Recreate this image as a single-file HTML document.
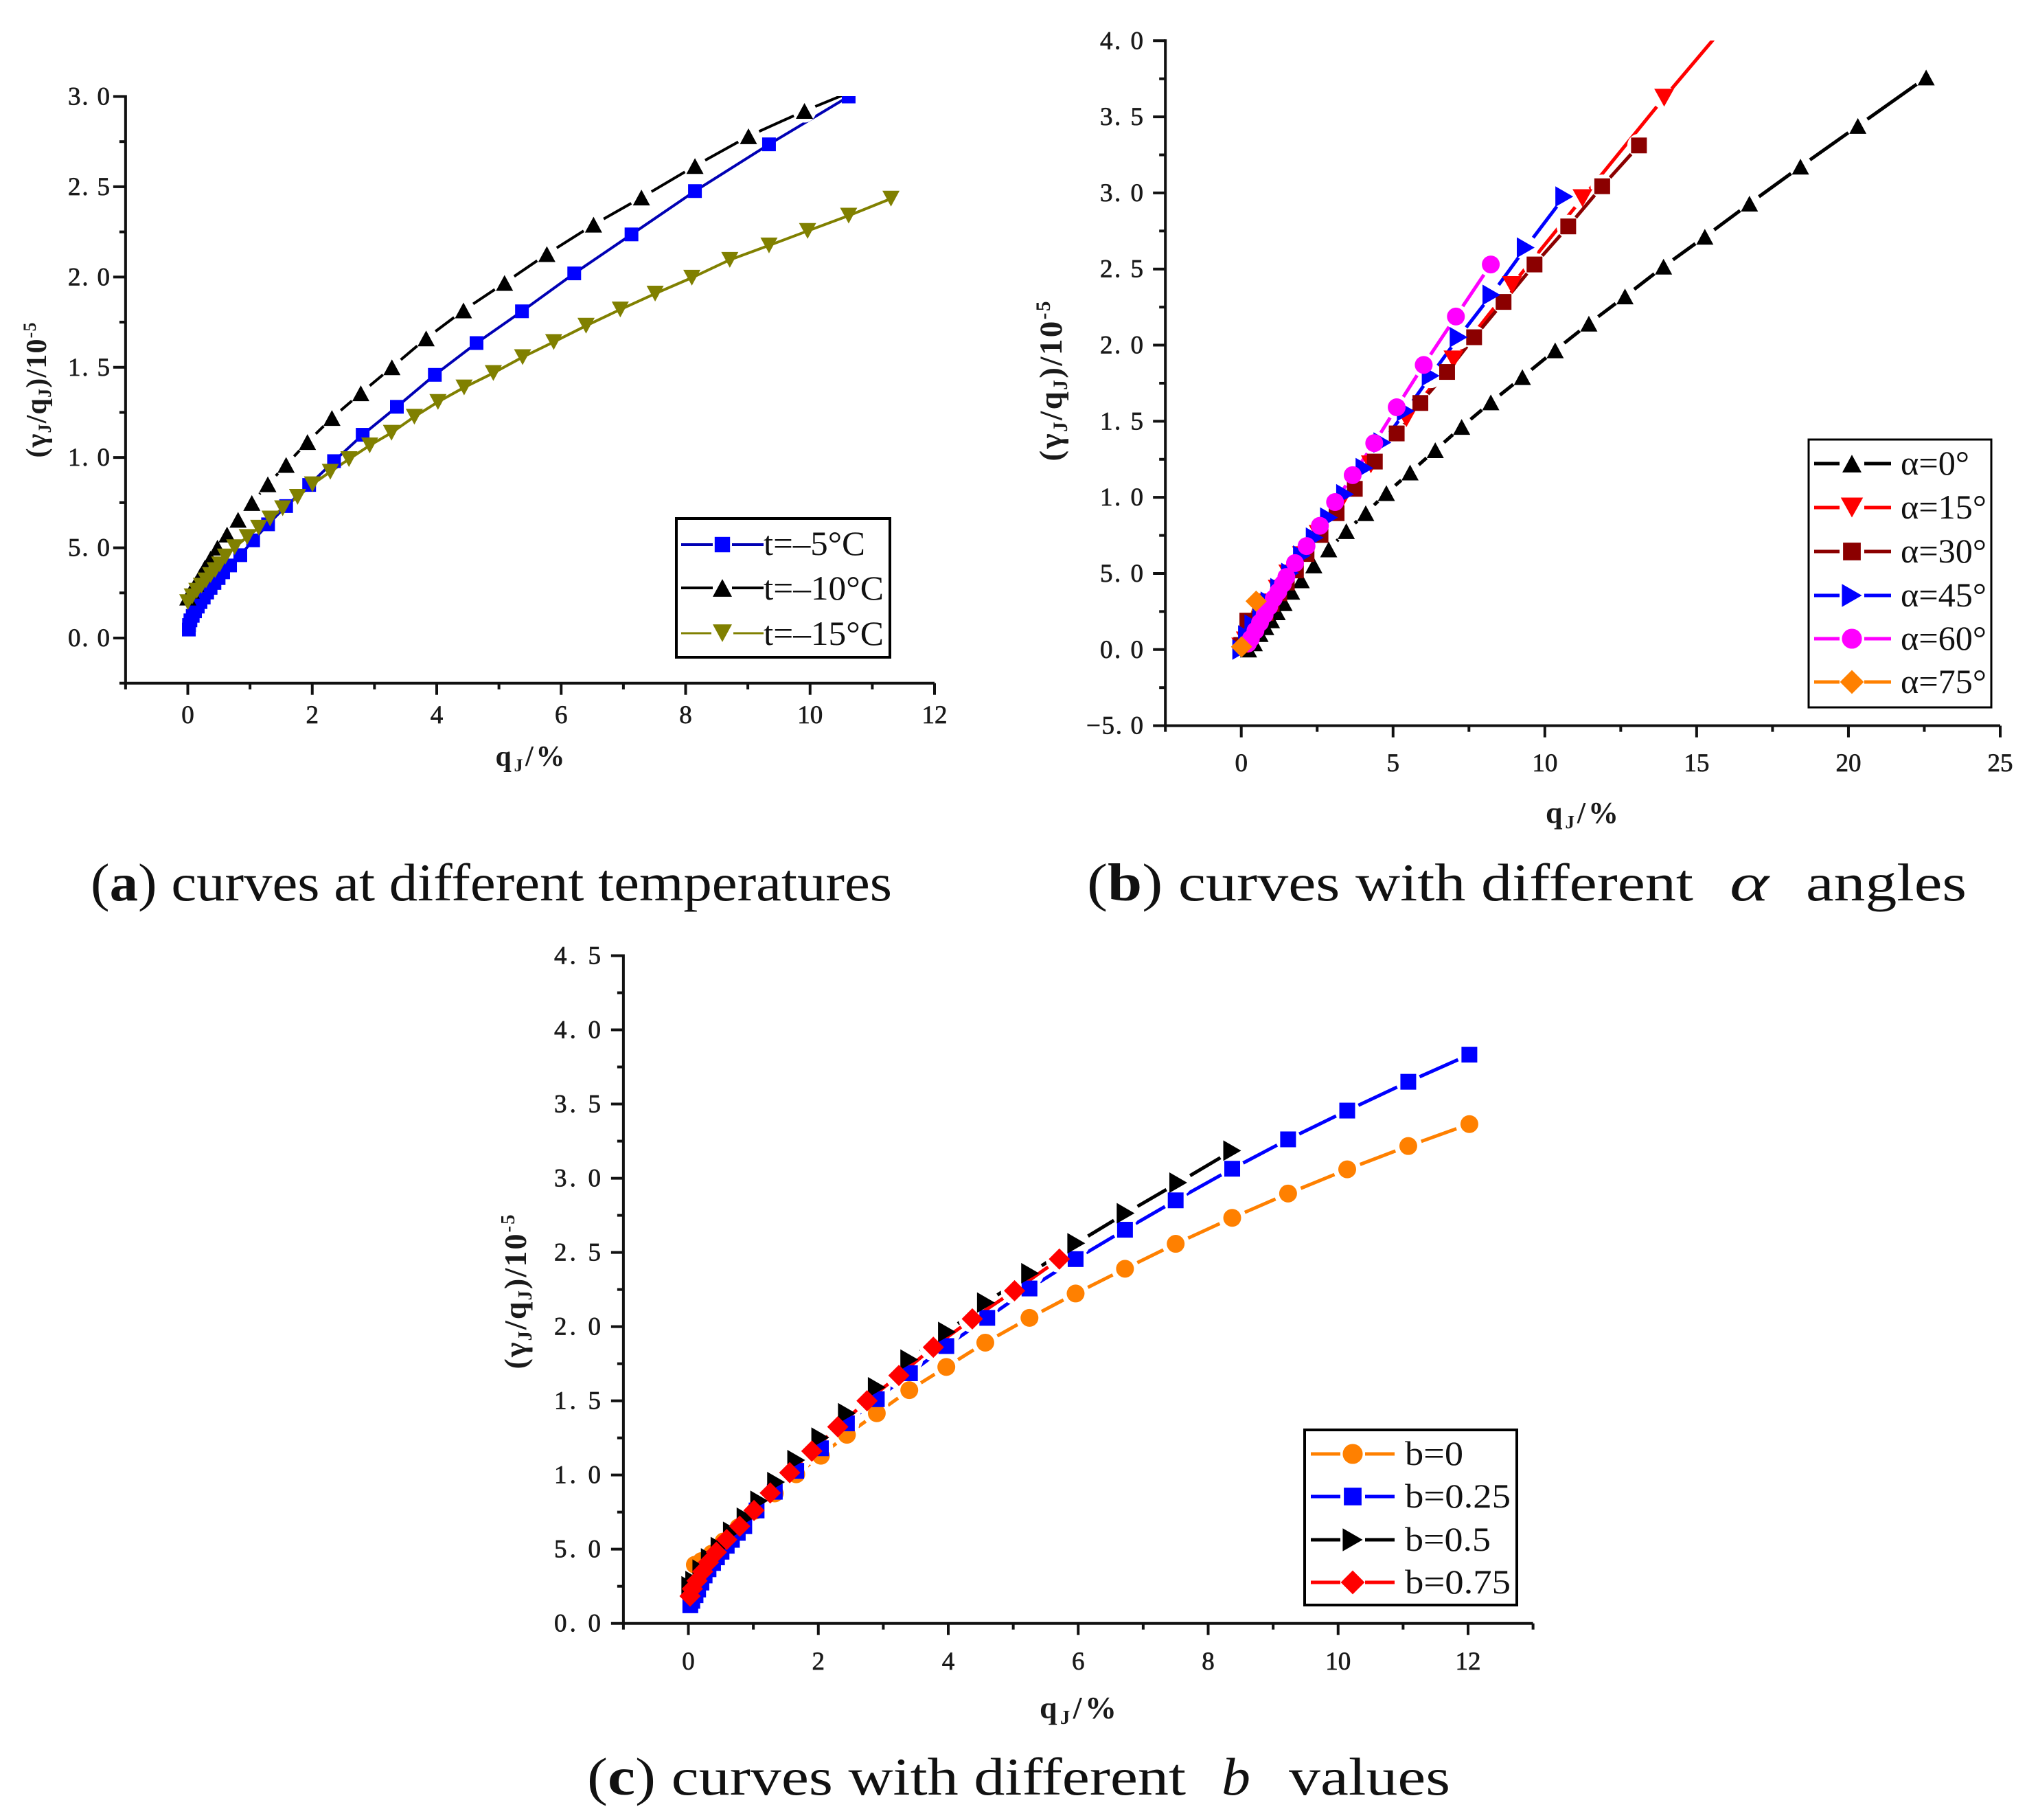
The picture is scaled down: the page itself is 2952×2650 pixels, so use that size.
<!DOCTYPE html>
<html lang="en">
<head>
<meta charset="utf-8">
<title>Curves at different temperatures, angles and b values</title>
<style>
html,body{margin:0;padding:0;background:#fff;}
svg{display:block;}
.tick{font-family:"Liberation Serif",serif;font-size:37px;fill:#1a1a1a;stroke:#1a1a1a;stroke-width:.7px;}
.title{font-family:"Liberation Serif",serif;font-size:42px;font-weight:bold;fill:#1a1a1a;}
.sm{font-size:.62em;}
.leg{font-family:"Liberation Serif",serif;font-size:50px;fill:#111;}
.cap{font-family:"Liberation Serif",serif;font-size:77px;fill:#111;}
</style>
</head>
<body>
<svg xmlns="http://www.w3.org/2000/svg" width="2952" height="2650" viewBox="0 0 2952 2650">
<rect width="2952" height="2650" fill="#fff"/>
<defs>
<clipPath id="clip-a"><rect x="150" y="140" width="1300" height="854"/></clipPath>
<clipPath id="clip-b"><rect x="1660" y="59" width="1292" height="998"/></clipPath>
<clipPath id="clip-c"><rect x="880" y="1391" width="1400" height="973"/></clipPath>
</defs>

<g id="panel-a"></g>
<g id="panel-b"></g>
<g id="panel-c"></g>

<!-- Axis titles -->
<text class="title" x="772" y="1115" text-anchor="middle" textLength="101">q<tspan class="sm" dy="8">J</tspan><tspan dy="-8">/%</tspan></text>
<text class="title" transform="translate(67,568) rotate(-90)" text-anchor="middle" textLength="197">(γ<tspan class="sm" dy="7">J</tspan><tspan dy="-7">/q</tspan><tspan class="sm" dy="7">J</tspan><tspan dy="-7">)/10</tspan><tspan class="sm" dy="-15">-5</tspan></text>

<text class="title" style="font-size:44px" x="2304" y="1198" text-anchor="middle" textLength="106">q<tspan class="sm" dy="8">J</tspan><tspan dy="-8">/%</tspan></text>
<text class="title" style="font-size:47px" transform="translate(1546,555) rotate(-90)" text-anchor="middle" textLength="233">(γ<tspan class="sm" dy="8">J</tspan><tspan dy="-8">/q</tspan><tspan class="sm" dy="8">J</tspan><tspan dy="-8">)/10</tspan><tspan class="sm" dy="-17">-5</tspan></text>

<text class="title" style="font-size:46px" x="1570" y="2502" text-anchor="middle" textLength="112">q<tspan class="sm" dy="8">J</tspan><tspan dy="-8">/%</tspan></text>
<text class="title" style="font-size:46px" transform="translate(766,1881) rotate(-90)" text-anchor="middle" textLength="225">(γ<tspan class="sm" dy="8">J</tspan><tspan dy="-8">/q</tspan><tspan class="sm" dy="8">J</tspan><tspan dy="-8">)/10</tspan><tspan class="sm" dy="-17">-5</tspan></text>

<!-- Legend a -->
<g>
<rect x="985" y="755" width="311" height="202" fill="#fff" stroke="#000" stroke-width="4"/>
<g id="legend-a-swatches"></g>
<text class="leg" x="1112" y="808" textLength="148" lengthAdjust="spacingAndGlyphs">t=–5°C</text>
<text class="leg" x="1112" y="873" textLength="175" lengthAdjust="spacingAndGlyphs">t=–10°C</text>
<text class="leg" x="1112" y="939" textLength="175" lengthAdjust="spacingAndGlyphs">t=–15°C</text>
</g>

<!-- Legend b -->
<g>
<rect x="2634" y="640" width="266" height="390" fill="#fff" stroke="#000" stroke-width="3"/>
<g id="legend-b-swatches"></g>
<text class="leg" x="2768" y="691" textLength="100" lengthAdjust="spacingAndGlyphs">α=0°</text>
<text class="leg" x="2768" y="755" textLength="125" lengthAdjust="spacingAndGlyphs">α=15°</text>
<text class="leg" x="2768" y="819" textLength="125" lengthAdjust="spacingAndGlyphs">α=30°</text>
<text class="leg" x="2768" y="883" textLength="125" lengthAdjust="spacingAndGlyphs">α=45°</text>
<text class="leg" x="2768" y="946" textLength="125" lengthAdjust="spacingAndGlyphs">α=60°</text>
<text class="leg" x="2768" y="1009" textLength="125" lengthAdjust="spacingAndGlyphs">α=75°</text>
</g>

<!-- Legend c -->
<g>
<rect x="1900" y="2082" width="309" height="255" fill="#fff" stroke="#000" stroke-width="4"/>
<g id="legend-c-swatches"></g>
<text class="leg" x="2046" y="2133" textLength="85" lengthAdjust="spacingAndGlyphs">b=0</text>
<text class="leg" x="2046" y="2195" textLength="154" lengthAdjust="spacingAndGlyphs">b=0.25</text>
<text class="leg" x="2046" y="2258" textLength="125" lengthAdjust="spacingAndGlyphs">b=0.5</text>
<text class="leg" x="2046" y="2320" textLength="154" lengthAdjust="spacingAndGlyphs">b=0.75</text>
</g>

<!-- Captions -->
<text class="cap" x="132" y="1311" textLength="1167" lengthAdjust="spacingAndGlyphs">(<tspan font-weight="bold">a</tspan>) curves at different temperatures</text>
<text class="cap" x="1583" y="1311" textLength="883" lengthAdjust="spacingAndGlyphs">(<tspan font-weight="bold">b</tspan>) curves with different</text>
<text class="cap" x="2519" y="1311" font-style="italic" textLength="57" lengthAdjust="spacingAndGlyphs">α</text>
<text class="cap" x="2630" y="1311" textLength="234" lengthAdjust="spacingAndGlyphs">angles</text>
<text class="cap" x="855" y="2613" textLength="872" lengthAdjust="spacingAndGlyphs">(<tspan font-weight="bold">c</tspan>) curves with different</text>
<text class="cap" x="1779" y="2613" font-style="italic" textLength="42" lengthAdjust="spacingAndGlyphs">b</text>
<text class="cap" x="1877" y="2613" textLength="235" lengthAdjust="spacingAndGlyphs">values</text>
</svg>

<script>
// ---------- Panel (a) data ----------
const aXTicks = [0,2,4,6,8,10,12];
const aXLabels = ["0","2","4","6","8","10","12"];
const aYTicks = [0,0.5,1,1.5,2,2.5,3];
const aYLabels = ["0. 0","5. 0","1. 0","1. 5","2. 0","2. 5","3. 0"];

const t5X = [0.017,0.02,0.042,0.079,0.116,0.16,0.204,0.256,0.311,0.366,0.428,0.495,0.568,0.679,0.844,1.05,1.29,1.58,1.95,2.35,2.81,3.36,3.97,4.64,5.37,6.21,7.13,8.15,9.34,10.62];
const t5Y = [0.047,0.072,0.098,0.123,0.148,0.174,0.199,0.224,0.252,0.278,0.305,0.332,0.364,0.402,0.459,0.541,0.63,0.731,0.848,0.98,1.126,1.281,1.458,1.634,1.81,2.02,2.236,2.476,2.735,3.0];

const t10X = [0,0.053,0.127,0.2,0.274,0.366,0.477,0.631,0.808,1.029,1.286,1.58,1.923,2.316,2.78,3.28,3.83,4.43,5.09,5.77,6.52,7.29,8.15,9.01,9.91,10.9];
const t10Y = [0.224,0.262,0.30,0.345,0.389,0.44,0.501,0.573,0.655,0.748,0.852,0.959,1.086,1.219,1.356,1.50,1.66,1.815,1.967,2.127,2.29,2.44,2.615,2.78,2.92,3.06];

const t15X = [0,0.072,0.145,0.219,0.293,0.366,0.44,0.513,0.605,0.753,0.955,1.139,1.322,1.525,1.764,2.003,2.29,2.59,2.923,3.273,3.641,4.02,4.44,4.91,5.38,5.88,6.40,6.95,7.51,8.10,8.71,9.34,9.96,10.62,11.30];
const t15Y = [0.199,0.231,0.262,0.29,0.319,0.349,0.376,0.408,0.452,0.503,0.56,0.611,0.662,0.719,0.782,0.852,0.921,0.991,1.067,1.137,1.226,1.308,1.388,1.468,1.556,1.64,1.73,1.82,1.908,1.996,2.095,2.175,2.255,2.34,2.434];

// ---------- Panel (b) data ----------
const bXTicks = [0,5,10,15,20,25];
const bXLabels = ["0","5","10","15","20","25"];
const bYTicks = [-0.5,0,0.5,1,1.5,2,2.5,3,3.5,4];
const bYLabels = ["−5. 0","0. 0","5. 0","1. 0","1. 5","2. 0","2. 5","3. 0","3. 5","4. 0"];

const a0X = [0.24,0.43,0.618,0.805,0.995,1.183,1.41,1.658,1.975,2.39,2.88,3.46,4.10,4.78,5.56,6.39,7.26,8.22,9.26,10.34,11.45,12.64,13.91,15.27,16.74,18.42,20.31,22.56];
const a0Y = [0,0.041,0.102,0.147,0.192,0.245,0.305,0.38,0.455,0.553,0.658,0.778,0.896,1.028,1.163,1.31,1.463,1.624,1.79,1.966,2.141,2.32,2.516,2.712,2.93,3.173,3.44,3.758];

const a15X = [0,0.15,0.3,0.48,0.68,0.9,1.2,1.55,2.0,2.55,3.25,4.27,5.44,6.99,8.92,11.24,13.93,17.0];
const a15Y = [0.02,0.06,0.11,0.17,0.24,0.31,0.4,0.5,0.62,0.76,0.96,1.217,1.52,1.906,2.395,2.966,3.626,4.35];

const a30X = [0,0.2,0.4,0.6,0.8,1.0,1.25,1.5,1.8,2.15,2.61,3.14,3.74,4.40,5.12,5.90,6.78,7.67,8.64,9.66,10.77,11.89,13.1];
const a30Y = [0.03,0.19,0.17,0.2,0.24,0.3,0.37,0.44,0.52,0.628,0.753,0.896,1.056,1.235,1.42,1.62,1.824,2.052,2.284,2.53,2.78,3.044,3.312];

const a45X = [0,0.19,0.40,0.66,0.93,1.25,1.61,2.0,2.42,2.89,3.42,4.06,4.65,5.42,6.24,7.16,8.24,9.37,10.64];
const a45Y = [0,0.093,0.164,0.236,0.314,0.403,0.503,0.617,0.735,0.867,1.02,1.192,1.36,1.567,1.799,2.052,2.33,2.641,2.976];

const a60X = [0.22,0.316,0.467,0.618,0.769,0.919,1.07,1.22,1.372,1.485,1.77,2.15,2.59,3.09,3.67,4.38,5.12,6.01,7.07,8.22];
const a60Y = [0.04,0.071,0.124,0.177,0.229,0.282,0.335,0.38,0.432,0.477,0.568,0.68,0.813,0.969,1.146,1.356,1.592,1.87,2.188,2.53];

const a75X = [0.01,0.49];
const a75Y = [0.018,0.318];

// ---------- Panel (c) data ----------
const cXTicks = [0,2,4,6,8,10,12];
const cXLabels = ["0","2","4","6","8","10","12"];
const cYTicks = [0,0.5,1,1.5,2,2.5,3,3.5,4,4.5];
const cYLabels = ["0. 0","5. 0","1. 0","1. 5","2. 0","2. 5","3. 0","3. 5","4. 0","4. 5"];

const b0X = [0.10,0.2,0.36,0.54,0.77,1.03,1.33,1.66,2.04,2.44,2.90,3.40,3.97,4.57,5.25,5.96,6.72,7.50,8.37,9.23,10.14,11.08,12.02];
const b0Y = [0.395,0.42,0.47,0.552,0.647,0.76,0.876,1.005,1.13,1.271,1.416,1.572,1.728,1.892,2.059,2.223,2.39,2.558,2.733,2.897,3.06,3.217,3.365];

const b25X = [0.03,0.06,0.11,0.15,0.2,0.25,0.31,0.38,0.44,0.51,0.59,0.67,0.76,0.86,1.05,1.33,1.66,2.04,2.44,2.90,3.41,3.97,4.60,5.25,5.96,6.72,7.50,8.37,9.23,10.14,11.08,12.02];
const b25Y = [0.122,0.152,0.19,0.228,0.275,0.323,0.365,0.407,0.445,0.483,0.523,0.563,0.61,0.655,0.761,0.887,1.028,1.18,1.348,1.511,1.686,1.869,2.059,2.257,2.455,2.653,2.851,3.064,3.262,3.456,3.65,3.833];

const b50X = [0.03,0.09,0.2,0.33,0.48,0.67,0.88,1.09,1.35,1.66,2.03,2.44,2.90,3.40,3.98,4.58,5.26,5.97,6.73,7.54,8.37];
const b50Y = [0.25,0.285,0.362,0.438,0.514,0.617,0.712,0.826,0.952,1.10,1.252,1.416,1.591,1.778,1.964,2.162,2.36,2.562,2.764,2.97,3.186];

const b75X = [0.026,0.061,0.132,0.22,0.309,0.431,0.59,0.79,1.01,1.26,1.56,1.90,2.30,2.75,3.24,3.77,4.37,5.02,5.71];
const b75Y = [0.184,0.233,0.287,0.349,0.411,0.48,0.565,0.655,0.761,0.879,1.016,1.161,1.325,1.50,1.671,1.861,2.052,2.242,2.455];

const seriesA = [
  {name:'t-5',  xs:t5X,  ys:t5Y,  line:'#0000b4', fill:'#0000ff', shape:'square', w:20, h:20, gap:0},
  {name:'t-10', xs:t10X, ys:t10Y, line:'#000000', fill:'#000000', shape:'up',     w:25, h:23, gap:17},
  {name:'t-15', xs:t15X, ys:t15Y, line:'#808000', fill:'#808000', shape:'down',   w:25, h:23, gap:0}
];
const seriesB = [
  {name:'alpha-0',  xs:a0X,  ys:a0Y,  line:'#000000', fill:'#000000', shape:'up',      w:25, h:23, gap:17},
  {name:'alpha-15', xs:a15X, ys:a15Y, line:'#ff0000', fill:'#ff0000', shape:'down',    w:29, h:26, gap:17},
  {name:'alpha-30', xs:a30X, ys:a30Y, line:'#8b0000', fill:'#8b0000', shape:'square',  w:23, h:23, gap:17},
  {name:'alpha-45', xs:a45X, ys:a45Y, line:'#0000ff', fill:'#0000ff', shape:'right',   w:26, h:30, gap:18},
  {name:'alpha-60', xs:a60X, ys:a60Y, line:'#ff00ff', fill:'#ff00ff', shape:'circle',  w:26, h:26, gap:18},
  {name:'alpha-75', xs:a75X, ys:a75Y, line:'#ff8000', fill:'#ff8000', shape:'diamond', w:31, h:31, gap:0}
];
const seriesC = [
  {name:'b-0',    xs:b0X,  ys:b0Y,  line:'#ff8000', fill:'#ff8000', shape:'circle',  w:26, h:26, gap:20},
  {name:'b-0-25', xs:b25X, ys:b25Y, line:'#0000ff', fill:'#0000ff', shape:'square',  w:23, h:23, gap:18},
  {name:'b-0-5',  xs:b50X, ys:b50Y, line:'#000000', fill:'#000000', shape:'right',   w:26, h:30, gap:20},
  {name:'b-0-75', xs:b75X, ys:b75Y, line:'#ff0000', fill:'#ff0000', shape:'diamond', w:31, h:31, gap:20}
];

const NS = 'http://www.w3.org/2000/svg';
function mk(tag, attrs, parent){
  const el = document.createElementNS(NS, tag);
  for (const k in attrs) el.setAttribute(k, attrs[k]);
  parent.appendChild(el);
  return el;
}
function linear(d0, d1, r0, r1){
  return function(v){ return r0 + (v - d0) * (r1 - r0) / (d1 - d0); };
}
function drawMarker(parent, shape, x, y, w, h, fill, name){
  const a = w / 2, b = h / 2;
  let el;
  if (shape === 'square') {
    el = mk('rect', {x:x-a, y:y-b, width:w, height:h, fill:fill}, parent);
  } else if (shape === 'circle') {
    el = mk('circle', {cx:x, cy:y, r:a, fill:fill}, parent);
  } else {
    let pts;
    if (shape === 'up') pts = [[x,y-b],[x+a,y+b],[x-a,y+b]];
    if (shape === 'down') pts = [[x,y+b],[x+a,y-b],[x-a,y-b]];
    if (shape === 'right') pts = [[x+a,y],[x-a,y-b],[x-a,y+b]];
    if (shape === 'diamond') pts = [[x,y-b],[x+a,y],[x,y+b],[x-a,y]];
    el = mk('polygon', {points:pts.map(function(p){return p.join(',');}).join(' '), fill:fill}, parent);
  }
  
  
}
function drawSeriesLines(parent, s, sx, sy, clipId, lw){
  const g = mk('g', {'clip-path':'url(#' + clipId + ')'}, parent);
  
  
  if (s.gap > 0) {
    for (let i = 0; i < s.xs.length; i++) {
      const halo = mk('circle', {cx:sx(s.xs[i]), cy:sy(s.ys[i]), r:s.gap, fill:'#fff'}, g);
      
      
    }
  }
  for (let i = 0; i < s.xs.length - 1; i++) {
    const x1 = sx(s.xs[i]), y1 = sy(s.ys[i]), x2 = sx(s.xs[i+1]), y2 = sy(s.ys[i+1]);
    const d = Math.hypot(x2 - x1, y2 - y1);
    if (d <= 2 * s.gap) continue;
    const ux = (x2 - x1) / d, uy = (y2 - y1) / d;
    const seg = mk('line', {x1:x1+ux*s.gap, y1:y1+uy*s.gap, x2:x2-ux*s.gap, y2:y2-uy*s.gap, stroke:s.line, 'stroke-width':lw}, g);
    
    
  }
}
function drawSeriesMarkers(parent, s, sx, sy, clipId){
  const g = mk('g', {'clip-path':'url(#' + clipId + ')'}, parent);
  
  
  for (let i = 0; i < s.xs.length; i++) {
    drawMarker(g, s.shape, sx(s.xs[i]), sy(s.ys[i]), s.w, s.h, s.fill, s.name + '-marker');
  }
}
function drawAxes(parent, o){
  const axis = '#111';
  const sx = o.sx, sy = o.sy;
  const xl = mk('line', {x1:sx(o.xMin)-2, y1:sy(o.yMin), x2:sx(o.xMax), y2:sy(o.yMin), stroke:axis, 'stroke-width':4}, parent);
  
  
  const yl = mk('line', {x1:sx(o.xMin), y1:sy(o.yMax)-2, x2:sx(o.xMin), y2:sy(o.yMin)+2, stroke:axis, 'stroke-width':4}, parent);
  
  
  o.xTicks.forEach(function(v, i){
    const t = mk('line', {x1:sx(v), y1:sy(o.yMin), x2:sx(v), y2:sy(o.yMin)+17, stroke:axis, 'stroke-width':4}, parent);
    
    
    const l = mk('text', {x:sx(v), y:o.xLabelY, 'text-anchor':'middle', 'class':'tick'}, parent);
    
    
    l.textContent = o.xLabels[i];
  });
  for (let v = o.xMin; v <= o.xMax + 1e-9; v += o.xMinor) {
    if (o.xTicks.some(function(m){ return Math.abs(m - v) < 1e-6; })) continue;
    const t = mk('line', {x1:sx(v), y1:sy(o.yMin), x2:sx(v), y2:sy(o.yMin)+9, stroke:axis, 'stroke-width':4}, parent);
    
    
  }
  o.yTicks.forEach(function(v, i){
    const t = mk('line', {x1:sx(o.xMin)-18, y1:sy(v), x2:sx(o.xMin), y2:sy(v), stroke:axis, 'stroke-width':4}, parent);
    
    
    const label = o.yLabels[i];
    const l = mk('text', {x:o.yLabelRight, y:sy(v)+12, 'text-anchor':'end', 'class':'tick', textLength: label.charAt(0) === '−' ? o.yLabelLen + 20 : o.yLabelLen}, parent);
    
    
    l.textContent = label;
  });
  for (let v = o.yMin; v <= o.yMax + 1e-9; v += o.yMinor) {
    if (o.yTicks.some(function(m){ return Math.abs(m - v) < 1e-6; })) continue;
    const t = mk('line', {x1:sx(o.xMin)-9, y1:sy(v), x2:sx(o.xMin), y2:sy(v), stroke:axis, 'stroke-width':4}, parent);
    
    
  }
}
function drawSwatch(parent, s, x0, x1, xc, y, gap, lw){
  const a = mk('line', {x1:x0, y1:y, x2:xc-gap, y2:y, stroke:s.line, 'stroke-width':lw}, parent);
  
  
  const b = mk('line', {x1:xc+gap, y1:y, x2:x1, y2:y, stroke:s.line, 'stroke-width':lw}, parent);
  
  
  drawMarker(parent, s.shape, xc, y, s.w * 1.12, s.h * 1.12, s.fill, 'legend-marker-' + s.name);
}
function drawPanel(g, list, sx, sy, clipId, lw){
  list.forEach(function(s){ drawSeriesLines(g, s, sx, sy, clipId, lw); });
  list.forEach(function(s){ drawSeriesMarkers(g, s, sx, sy, clipId); });
}

// Panel a
const axA = linear(0, 12, 273.5, 1361), ayA = linear(0, 3, 929, 140.5);
const gA = document.getElementById('panel-a');
drawPanel(gA, seriesA, axA, ayA, 'clip-a', 4);
drawAxes(gA, {id:'panel-a', sx:axA, sy:ayA, xMin:-1, xMax:12, yMin:-0.25, yMax:3, xMinor:1, yMinor:0.25,
  xTicks:aXTicks, xLabels:aXLabels, yTicks:aYTicks, yLabels:aYLabels, xLabelY:1053, yLabelRight:160, yLabelLen:61});

// Panel b
const axB = linear(0, 25, 1807.7, 2913), ayB = linear(0, 4, 945.8, 59.3);
const gB = document.getElementById('panel-b');
drawPanel(gB, seriesB, axB, ayB, 'clip-b', 5);
drawAxes(gB, {id:'panel-b', sx:axB, sy:ayB, xMin:-2.5, xMax:25, yMin:-0.5, yMax:4, xMinor:2.5, yMinor:0.25,
  xTicks:bXTicks, xLabels:bXLabels, yTicks:bYTicks, yLabels:bYLabels, xLabelY:1123, yLabelRight:1665, yLabelLen:63});

// Panel c
const axC = linear(0, 12, 1002.5, 2138), ayC = linear(0, 4.5, 2363.7, 1391.5);
const gC = document.getElementById('panel-c');
drawPanel(gC, seriesC, axC, ayC, 'clip-c', 5);
drawAxes(gC, {id:'panel-c', sx:axC, sy:ayC, xMin:-1, xMax:13, yMin:0, yMax:4.5, xMinor:1, yMinor:0.25,
  xTicks:cXTicks, xLabels:cXLabels, yTicks:cYTicks, yLabels:cYLabels, xLabelY:2431, yLabelRight:875, yLabelLen:68});

// Legend swatches
const lgA = document.getElementById('legend-a-swatches');
drawSwatch(lgA, seriesA[0], 992, 1112, 1052, 793, 14, 4);
drawSwatch(lgA, seriesA[1], 992, 1112, 1052, 856, 14, 4);
drawSwatch(lgA, seriesA[2], 992, 1112, 1052, 922, 16, 3);
const lgB = document.getElementById('legend-b-swatches');
drawSwatch(lgB, seriesB[0], 2642, 2754, 2697, 675, 18, 5);
drawSwatch(lgB, seriesB[1], 2642, 2754, 2697, 739, 18, 5);
drawSwatch(lgB, seriesB[2], 2642, 2754, 2697, 803, 18, 5);
drawSwatch(lgB, seriesB[3], 2642, 2754, 2697, 867, 18, 5);
drawSwatch(lgB, seriesB[4], 2642, 2754, 2697, 930, 18, 5);
drawSwatch(lgB, seriesB[5], 2642, 2754, 2697, 993, 18, 5);
const lgC = document.getElementById('legend-c-swatches');
drawSwatch(lgC, seriesC[0], 1909, 2031, 1970, 2117, 18, 5);
drawSwatch(lgC, seriesC[1], 1909, 2031, 1970, 2179, 18, 5);
drawSwatch(lgC, seriesC[2], 1909, 2031, 1970, 2242, 18, 5);
drawSwatch(lgC, seriesC[3], 1909, 2031, 1970, 2304, 18, 5);
</script>
</body>
</html>
